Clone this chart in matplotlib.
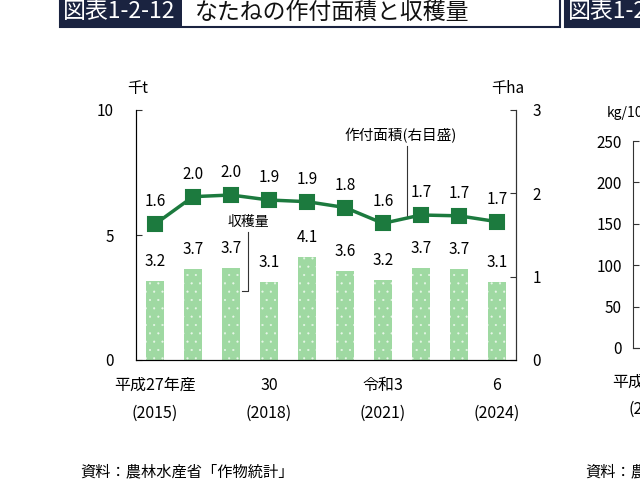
import numpy as np
import matplotlib.pyplot as plt
from matplotlib.patches import Rectangle

plt.rcParams['font.family'] = ['Noto Sans CJK JP', 'DejaVu Sans']
plt.rcParams['hatch.color'] = '#e8f7e9'
plt.rcParams['hatch.linewidth'] = 0.3

# data (千t, 千ha)
years = [2015, 2016, 2017, 2018, 2019, 2020, 2021, 2022, 2023, 2024]
harvest = [3.17, 3.66, 3.68, 3.12, 4.13, 3.58, 3.21, 3.68, 3.66, 3.12]
area = [1.63, 1.96, 1.98, 1.92, 1.90, 1.83, 1.64, 1.74, 1.73, 1.66]
tick_pos = [0, 3, 6, 9]
tick_labels = ['平成27年産\n(2015)', '30\n(2018)', '令和3\n(2021)', '6\n(2024)']

navy = '#1a2340'
bar_green = '#9fd9a2'
line_green = '#1c7a3e'
axis_col = '#333333'

fig = plt.figure(figsize=(6.4, 5), dpi=100)

# title boxes
fig.add_artist(Rectangle((60 / 640, 1 - 27 / 500), 500 / 640, 30 / 500,
                         transform=fig.transFigure, facecolor='white',
                         edgecolor=navy, lw=1.5))
fig.add_artist(Rectangle((61 / 640, 1 - 26 / 500), 121 / 640, 30 / 500,
                         transform=fig.transFigure, facecolor=navy, lw=0))
fig.text(63 / 640, 1 - 12 / 500, '図表1-2-12', color='white', fontsize=16.5,
         va='center', ha='left')
fig.text(195 / 640, 1 - 12 / 500, 'なたねの作付面積と収穫量', color='#111111',
         fontsize=16.5, va='center', ha='left')
fig.add_artist(Rectangle((565 / 640, 1 - 27 / 500), 100 / 640, 30 / 500,
                         transform=fig.transFigure, facecolor=navy,
                         edgecolor=navy, lw=1.5))
fig.text(568 / 640, 1 - 12 / 500, '図表1-2-13', color='white', fontsize=16.5,
         va='center', ha='left')

# main chart
ax = fig.add_axes([136 / 640, 1 - 360 / 500, 380 / 640, 250 / 500])
x = np.arange(len(years))
ax.bar(x, harvest, width=0.47, color=bar_green, hatch='..', lw=0, zorder=2)
ax.set_xlim(-0.5, len(years) - 0.5)
ax.set_ylim(0, 10)
ax.set_yticks([0, 5, 10])
ax.set_xticks(tick_pos)
ax.set_xticklabels(tick_labels, fontsize=11.5, linespacing=1.85)
ax.tick_params(axis='x', length=0, pad=12)
ax.tick_params(axis='y', direction='in', length=4, pad=16, labelsize=11,
               color=axis_col)
ax.spines['top'].set_visible(False)
for s in ['left', 'right', 'bottom']:
    ax.spines[s].set_color(axis_col)
for i, v in enumerate(harvest):
    ax.annotate(f'{v:.1f}', (i, v), xytext=(0, 14), textcoords='offset points',
                ha='center', va='center', fontsize=11)

ax2 = ax.twinx()
ax2.plot(x, area, color=line_green, lw=2.5, marker='s', markersize=10,
         markeredgewidth=1.5, solid_joinstyle='round', zorder=3)
ax2.set_ylim(0, 3)
ax2.set_yticks([0, 1, 2, 3])
ax2.tick_params(axis='y', direction='in', length=4, pad=12, labelsize=11,
                color=axis_col)
ax2.spines['top'].set_visible(False)
ax2.spines['right'].set_color(axis_col)
for i, v in enumerate(area):
    ax2.annotate(f'{v:.1f}', (i, v), xytext=(0, 16), textcoords='offset points',
                 ha='center', va='center', fontsize=11)

# callouts
ax2.text(6.47, 2.69, '作付面積(右目盛)', ha='center', va='center', fontsize=10.5)
ax2.plot([6.63, 6.63], [2.57, 1.7], color=axis_col, lw=0.8)
ax.text(2.45, 5.52, '収穫量', ha='center', va='center', fontsize=10)
ax.plot([2.45, 2.45, 2.29], [5.12, 2.76, 2.76], color=axis_col, lw=0.8)

fig.text(138 / 640, 1 - 89 / 500, '千t', ha='center', va='center', fontsize=11)
fig.text(508 / 640, 1 - 89 / 500, '千ha', ha='center', va='center', fontsize=11)

# right-hand chart, cut off by the page edge
ax3 = fig.add_axes([633 / 640, 1 - 348 / 500, 60 / 640, 207 / 500])
ax3.set_ylim(0, 250)
ax3.set_yticks([0, 50, 100, 150, 200, 250])
ax3.set_xticks([])
ax3.tick_params(axis='y', direction='in', length=4, pad=8, labelsize=11,
                color=axis_col)
for s in ['top', 'right']:
    ax3.spines[s].set_visible(False)
for s in ['left', 'bottom']:
    ax3.spines[s].set_color(axis_col)
fig.text(607 / 640, 1 - 113 / 500, 'kg/10a', ha='left', va='center', fontsize=10)
fig.text(612 / 640, 1 - 382 / 500, '平成27年産', ha='left', va='center', fontsize=11.5)
fig.text(629 / 640, 1 - 409 / 500, '(2015)', ha='left', va='center', fontsize=11.5)

fig.text(80 / 640, 1 - 472 / 500, '資料：農林水産省「作物統計」', ha='left',
         va='center', fontsize=11)
fig.text(585 / 640, 1 - 472 / 500, '資料：農林水産省「作物統計」', ha='left',
         va='center', fontsize=11)

fig.savefig('out.png', dpi=100)
